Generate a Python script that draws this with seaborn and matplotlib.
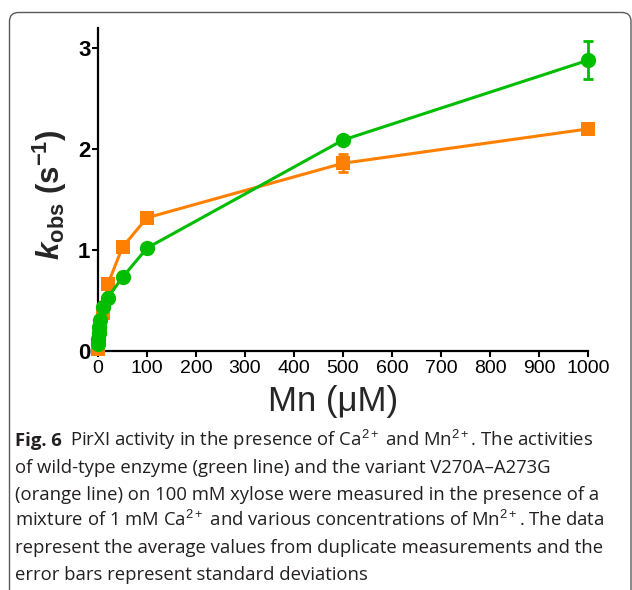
import matplotlib
matplotlib.use("Agg")
import matplotlib.pyplot as plt
import numpy as np
import pandas as pd
import seaborn as sns
from matplotlib.patches import FancyBboxPatch
from matplotlib.transforms import IdentityTransform

# Mn2+ concentration (µM) and k_obs (s^-1), mean and SD of duplicates
mn_wt = [0, 1, 2, 3, 5, 10, 20, 50, 100, 500, 1000]
kobs_wt = [0.07, 0.12, 0.18, 0.24, 0.31, 0.44, 0.53, 0.73, 1.02, 2.09, 2.88]
sd_wt = [0.01, 0.01, 0.01, 0.01, 0.01, 0.02, 0.02, 0.02, 0.02, 0.03, 0.19]

mn_var = [0, 1, 2, 5, 10, 20, 50, 100, 500, 1000]
kobs_var = [0.02, 0.06, 0.11, 0.22, 0.38, 0.66, 1.03, 1.32, 1.86, 2.20]
sd_var = [0.01, 0.01, 0.01, 0.01, 0.02, 0.02, 0.03, 0.02, 0.09, 0.03]

x_ticks = [0, 100, 200, 300, 400, 500, 600, 700, 800, 900, 1000]
y_ticks = [0, 1, 2, 3]

GREEN = "#00bd00"
ORANGE = "#ff8000"

sns.set_style("ticks")
plt.rcParams["font.family"] = ["Liberation Sans", "DejaVu Sans"]
plt.rcParams["mathtext.fontset"] = "custom"
plt.rcParams["mathtext.rm"] = "Liberation Sans"
plt.rcParams["mathtext.it"] = "Liberation Sans:italic"
plt.rcParams["mathtext.bf"] = "Liberation Sans:bold"
plt.rcParams["mathtext.bfit"] = "Liberation Sans:bold:italic"

W, H = 632, 590
fig = plt.figure(figsize=(W / 100, H / 100), dpi=100)
ax = fig.add_axes([98 / W, (H - 351) / H, (588 - 98) / W, (351 - 28) / H])

df_wt = pd.DataFrame({"Mn": mn_wt, "kobs": kobs_wt, "sd": sd_wt})
df_var = pd.DataFrame({"Mn": mn_var, "kobs": kobs_var, "sd": sd_var})

# error bars first, so the markers sit on top of them
ax.errorbar(df_var["Mn"], df_var["kobs"], yerr=df_var["sd"], fmt="none",
            ecolor=ORANGE, elinewidth=2, capsize=3.6, capthick=2,
            clip_on=False, zorder=2)
ax.errorbar(df_wt["Mn"], df_wt["kobs"], yerr=df_wt["sd"], fmt="none",
            ecolor=GREEN, elinewidth=2, capsize=3.6, capthick=2,
            clip_on=False, zorder=4)

sns.lineplot(data=df_var, x="Mn", y="kobs", ax=ax, color=ORANGE,
             marker="s", markersize=9.5, markeredgewidth=0, linewidth=2.2,
             errorbar=None, clip_on=False, zorder=3)
sns.lineplot(data=df_wt, x="Mn", y="kobs", ax=ax, color=GREEN,
             marker="o", markersize=11, markeredgewidth=0, linewidth=2.2,
             errorbar=None, clip_on=False, zorder=5)

ax.set_xlim(0, 1000)
ax.set_ylim(0, 3.2)
ax.set_xticks(x_ticks)
ax.set_xticklabels([str(t) for t in x_ticks], fontsize=14)
ax.set_yticks(y_ticks)
ax.set_yticklabels([str(t) for t in y_ticks], fontsize=16, fontweight="bold")
sns.despine(ax=ax)
for side in ("left", "bottom"):
    ax.spines[side].set_linewidth(1.6)
    ax.spines[side].set_color("black")
ax.tick_params(axis="both", direction="out", length=4, width=1.5, colors="black")
ax.tick_params(axis="x", pad=2.5)
ax.tick_params(axis="y", pad=1.5)

ax.set_xlabel("Mn (μM)", fontsize=25)
ax.xaxis.label.set(va="center", ha="center")
ax.xaxis.set_label_coords((333 - 98) / 490, (351 - 401) / 323)

ax.set_ylabel(r"$\mathbfit{k}_{\mathbf{obs}}$ (s$^{\mathbf{-1}}$)",
              fontsize=22.5, fontweight="bold")
ax.yaxis.label.set(va="center", ha="center", rotation_mode="default")
ax.yaxis.set_label_coords((50 - 98) / 490, (351 - 195) / 323)

# rounded figure frame, open past the bottom edge
frame = FancyBboxPatch((0.095, -0.3), 6.215, 5.78 - (-0.3) - 0.005,
                       boxstyle="round,pad=0,rounding_size=0.09",
                       transform=fig.dpi_scale_trans, facecolor="none",
                       edgecolor="#5a5a5a", linewidth=1.0, clip_on=False)
fig.patches.append(frame)

# caption
cap_head = "Fig. 6"
cap_lines = [
    r"PirXI activity in the presence of Ca$^{2+}$ and Mn$^{2+}$. The activities",
    "of wild-type enzyme (green line) and the variant V270A–A273G",
    "(orange line) on 100 mM xylose were measured in the presence of a",
    r"mixture of 1 mM Ca$^{2+}$ and various concentrations of Mn$^{2+}$. The data",
    "represent the average values from duplicate measurements and the",
    "error bars represent standard deviations",
]
baselines = [446, 473, 499.5, 526, 553, 580]
cap_left = 15
fit_line, fit_right = 4, 598
cap_style = dict(family=["Open Sans", "DejaVu Sans"], color="#231f20",
                 va="baseline", ha="left", transform=IdentityTransform())
fs = 13.0
head = fig.text(cap_left, H - baselines[0], cap_head, fontsize=fs,
                fontweight="bold", **cap_style)
lines = [fig.text(cap_left, H - b, s, fontsize=fs, **cap_style)
         for b, s in zip(baselines, cap_lines)]


def place_first_line(size):
    fig.canvas.draw()
    r = fig.canvas.get_renderer()
    hb = head.get_window_extent(r)
    lines[0].set_x(hb.x1 + size * 0.6)
    fig.canvas.draw()
    return lines[fit_line].get_window_extent(r).x1


right = place_first_line(fs)
fs = fs * (fit_right - cap_left) / (right - cap_left)
head.set_fontsize(fs)
for t in lines:
    t.set_fontsize(fs)
place_first_line(fs)

fig.savefig("out.png", dpi=100)
